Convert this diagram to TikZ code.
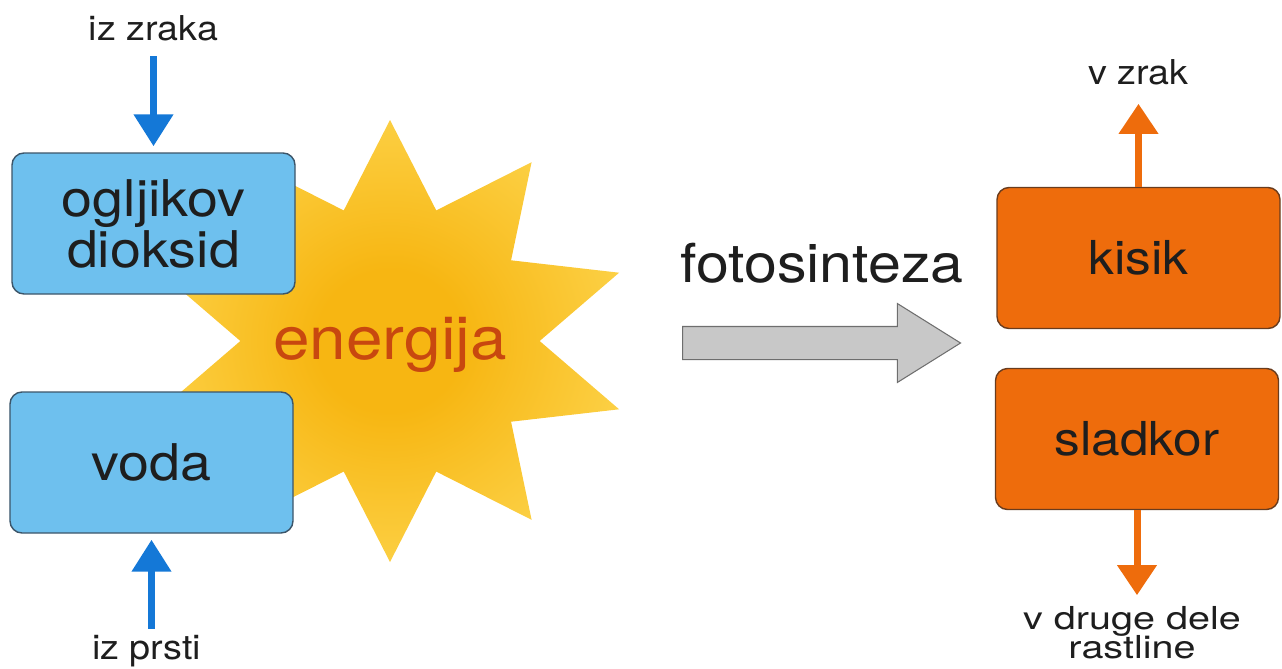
\documentclass[tikz,border=0pt]{standalone}
\usepackage{fontspec}
\setmainfont[FakeStretch=1.1]{TeX Gyre Heros}
\newfontfamily\widefont[FakeStretch=1.25]{TeX Gyre Heros}
\usetikzlibrary{positioning, arrows.meta, shapes.geometric,
shapes.arrows}

\definecolor{boxblue}{RGB}{110,192,238}
\definecolor{boxblueline}{RGB}{60,85,105}
\definecolor{arrowblue}{RGB}{20,120,215}
\definecolor{boxorange}{RGB}{238,108,12}
\definecolor{boxorangeline}{RGB}{105,60,30}
\definecolor{sunmid}{RGB}{247,182,18}
\definecolor{sunedge}{RGB}{253,214,80}
\definecolor{energyred}{RGB}{200,72,15}
\definecolor{shaftgray}{RGB}{200,200,200}
\definecolor{shaftline}{RGB}{110,110,110}
\definecolor{inktext}{RGB}{30,30,30}

\pgfdeclareradialshading{sunglow}{\pgfpoint{0bp}{0bp}}{%
  color(0bp)=(sunmid); color(8bp)=(sunmid);
  color(30bp)=(sunedge); color(50bp)=(sunedge)}

\begin{document}
\begin{tikzpicture}[
  bluebox/.style={draw=boxblueline, line width=0.8pt, fill=boxblue,
    rounded corners=0.24cm, minimum width=5.66cm, minimum height=2.82cm,
    align=center, text=inktext, font=\fontsize{28.8}{29}\selectfont},
  orangebox/.style={draw=boxorangeline, line width=0.8pt, fill=boxorange,
    rounded corners=0.24cm, minimum width=5.66cm, minimum height=2.82cm,
    align=center, text=inktext, font=\fontsize{26.6}{28}\selectfont},
  tag/.style={inner sep=0pt, align=center, text=inktext,
    font=\fontsize{19.5}{17.5}\selectfont},
  bluearr/.style={arrowblue, line width=0.15cm,
    -{Triangle[width=0.76cm,length=0.64cm]}},
  orangearr/.style={boxorange, line width=0.14cm,
    -{Triangle[width=0.76cm,length=0.6cm]}},
]
\useasboundingbox (0,0) rectangle (25.64,-13.36);

% sun
\node[star, star points=10, star point ratio=1.61, minimum size=8.84cm,
    inner sep=0pt, xscale=1.09, transform shape, shade, shading=sunglow]
    (sun) at (7.80,-6.82) {};
\node[text=energyred, font=\fontsize{34}{35}\selectfont]
    (energija) at ([yshift=-0.08cm]sun.center) {energija};

% reaction arrow
\node[single arrow, draw=shaftline, fill=shaftgray, line width=0.6pt,
    inner sep=0pt, inner ysep=0.32cm, minimum height=5.56cm,
    minimum width=1.56cm, single arrow head extend=0.46cm,
    single arrow tip angle=64, anchor=tail] (pot) at (13.64,-6.86) {};
\node[text=inktext, font=\fontsize{30.6}{32}\selectfont]
    (foto) at (16.44,-5.27) {fotosinteza};

% inputs
\node[bluebox] (co2) at (3.07,-4.47) {ogljikov\\dioksid};
\node[bluebox] (voda) at (3.03,-9.25) {voda};
\node[tag, above=2.22cm of co2] (zraka) {iz zraka};
\node[tag, below=2.02cm of voda, xshift=-0.1cm] (prsti) {iz prsti};

% outputs
\node[orangebox] (kisik) at (22.77,-5.16) {kisik};
\node[orangebox] (sladkor) at (22.74,-8.78) {sladkor};
\node[tag, above=2.02cm of kisik] (vzrak) {v zrak};
\node[tag, below=1.92cm of sladkor, xshift=-0.1cm,
    font=\widefont\fontsize{18}{15}\selectfont]
    (drugi) {v druge dele\\[-1.5pt]rastline};

\draw[bluearr, shorten <=0.12cm, shorten >=0.12cm] (prsti.north -| voda) -- (voda);
\draw[bluearr, shorten <=0.3cm, shorten >=0.12cm] (zraka) -- (co2);
\draw[orangearr, shorten >=0.36cm] (kisik) -- (vzrak);
\draw[orangearr, shorten >=0.22cm] (sladkor.south) -- (sladkor.south |- drugi.north);
\end{tikzpicture}
\end{document}
